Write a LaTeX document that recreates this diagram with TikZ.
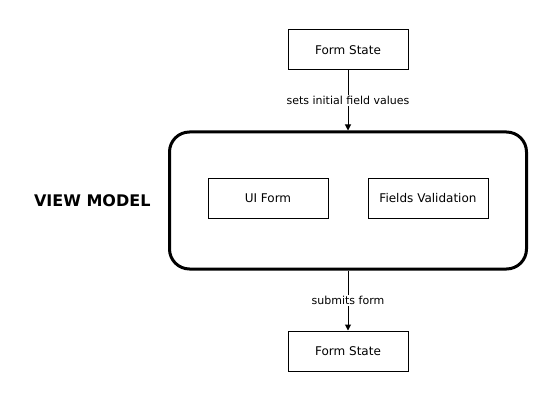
\documentclass[tikz,border=0pt]{standalone}
\usepackage{fontspec}
\setmainfont{DejaVu Sans}
\usetikzlibrary{arrows.meta,positioning}
\tikzset{
  statebox/.style={draw=black, line width=1pt, minimum width=120pt, minimum height=40pt, align=center, font=\fontsize{12}{14}\selectfont},
  vmbox/.style={draw=black, line width=3pt, rounded corners=20pt, minimum width=357pt, minimum height=137pt},
  arrow/.style={-{Triangle[length=6pt, width=6pt]}, line width=1pt},
  edgelabel/.style={fill=white, inner sep=1.5pt, font=\fontsize{11}{13}\selectfont}
}
\begin{document}
\begin{tikzpicture}[x=1pt, y=-1pt, node distance=60pt]
  \useasboundingbox (0,0) rectangle (560,401);
  \node[statebox] (top) at (348,50) {Form State};
  \node[vmbox, below=60pt of top] (vm) {};
  \node[statebox] (uiform) at ([xshift=-80pt, yshift=2pt]vm.center) {UI Form};
  \node[statebox] (fields) at ([xshift=80pt, yshift=2pt]vm.center) {Fields Validation};
  \node[left=14pt of vm, font=\fontsize{16}{19}\selectfont\bfseries] (vmlabel) {VIEW MODEL};
  \node[statebox, below=60pt of vm] (bottom) {Form State};

  \draw[arrow] (top.south) -- node[edgelabel]{sets initial field values} (vm.north);
  \draw[arrow] (vm.south) -- node[edgelabel]{submits form} (bottom.north);
\end{tikzpicture}
\end{document}
